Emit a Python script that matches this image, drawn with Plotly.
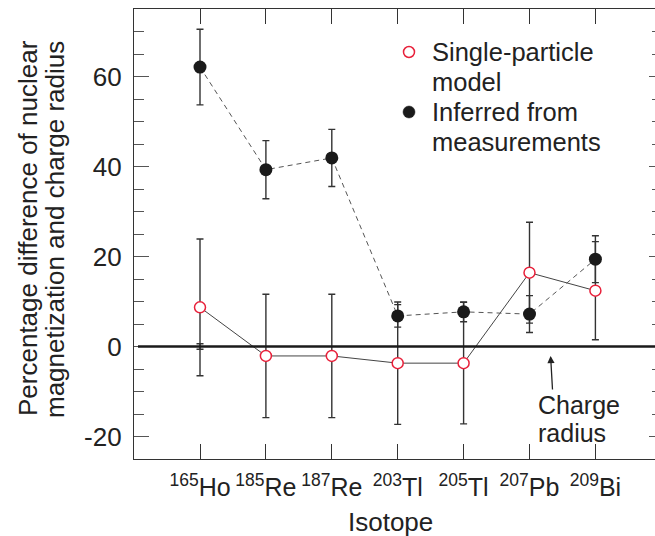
import plotly.graph_objects as go

isotopes = ["<sup>165</sup>Ho", "<sup>185</sup>Re", "<sup>187</sup>Re", "<sup>203</sup>Tl",
            "<sup>205</sup>Tl", "<sup>207</sup>Pb", "<sup>209</sup>Bi"]

single_particle = [8.7, -2.1, -2.1, -3.7, -3.7, 16.4, 12.4]
single_particle_err = [15.2, 13.7, 13.7, 13.6, 13.5, 11.2, 10.9]

inferred = [62.1, 39.3, 41.9, 6.8, 7.7, 7.2, 19.4]
inferred_err = [8.4, 6.45, 6.35, 2.5, 2.2, 4.1, 5.2]

charge_radius_iso = ["<sup>165</sup>Ho"]
charge_radius = [0.0]
charge_radius_err = [0.6]

y_tickvals = [-20, 0, 20, 40, 60]
y_ticktext = ["-20", "0", "20", "40", "60"]

legend_lines = [["Single-particle", "model"], ["Inferred from", "measurements"]]
charge_lines = ["Charge", "radius"]
ytitle_lines = ["Percentage difference of nuclear", "magnetization and charge radius"]

FONT = "Liberation Sans, Arial, sans-serif"
TXT = "#222222"
RED = "#e8203a"

PLOT_TOP, PLOT_BOTTOM = 9, 459
PLOT_LEFT, PLOT_RIGHT = 134, 655
CAT0_PX, CAT_STEP = 200, 65.9


def py2paper(py):
    return (PLOT_BOTTOM - py) / (PLOT_BOTTOM - PLOT_TOP)


def px2paper(px):
    return (px - PLOT_LEFT) / (PLOT_RIGHT - PLOT_LEFT)


fig = go.Figure()

fig.add_trace(go.Scatter(
    x=charge_radius_iso, y=charge_radius, mode="markers",
    marker=dict(size=1, color="rgba(0,0,0,0)"),
    error_y=dict(type="data", array=charge_radius_err, color="#333333", thickness=1.4, width=3.5),
    showlegend=False, hoverinfo="skip"))

fig.add_trace(go.Scatter(
    x=isotopes, y=single_particle, mode="lines+markers",
    name="Single-particle model", showlegend=False,
    line=dict(color="#444444", width=1),
    marker=dict(symbol="circle", size=11, color="white", line=dict(color=RED, width=1.5)),
    error_y=dict(type="data", array=single_particle_err, color="#333333", thickness=1.4, width=3.5)))

fig.add_trace(go.Scatter(
    x=isotopes, y=inferred, mode="lines+markers",
    name="Inferred from measurements", showlegend=False,
    line=dict(color="#555555", width=1, dash="5px,4px"),
    marker=dict(symbol="circle", size=13, color="#1a1a1a"),
    error_y=dict(type="data", array=inferred_err, color="#333333", thickness=1.4, width=3.5)))

# invisible trace on the right-hand axis (carries the right-side tick stubs)
fig.add_trace(go.Scatter(x=isotopes, y=inferred, yaxis="y2", mode="markers",
                         marker=dict(size=1, color="rgba(0,0,0,0)"),
                         showlegend=False, hoverinfo="skip"))

# zero (charge radius) line
fig.add_shape(type="line", xref="paper", yref="y", x0=px2paper(138), x1=1.0, y0=0, y1=0,
              line=dict(color="#1a1a1a", width=2.6))

# manual legend
legend_sym_x = px2paper(409)
legend_text_x = px2paper(430)
line_y = [52, 82, 112, 142]
sym_styles = [dict(fillcolor="white", line=dict(color=RED, width=1.5), r=5.5),
              dict(fillcolor="#1a1a1a", line=dict(color="#1a1a1a", width=0.5), r=6)]
for i, lines in enumerate(legend_lines):
    st = sym_styles[i]
    yc = py2paper(line_y[2 * i])
    fig.add_shape(type="circle", xref="paper", yref="paper",
                  xsizemode="pixel", ysizemode="pixel",
                  xanchor=legend_sym_x, yanchor=yc,
                  x0=-st["r"], x1=st["r"], y0=-st["r"], y1=st["r"],
                  fillcolor=st["fillcolor"], line=st["line"])
    for j, t in enumerate(lines):
        fig.add_annotation(xref="paper", yref="paper", x=legend_text_x,
                           y=py2paper(line_y[2 * i + j]), text=t, showarrow=False,
                           xanchor="left", yanchor="middle",
                           font=dict(family=FONT, size=25.5, color=TXT))

# arrow and label
fig.add_annotation(x=5.32, y=-2.1, xref="x", yref="y", text="", showarrow=True,
                   ax=2, ay=35, arrowhead=2, arrowsize=1.1, arrowwidth=1.3, arrowcolor="#222222")
for j, t in enumerate(charge_lines):
    fig.add_annotation(xref="paper", yref="paper", x=px2paper(536), y=py2paper([405, 433][j]),
                       text=t, showarrow=False, xanchor="left", yanchor="middle",
                       font=dict(family=FONT, size=25, color=TXT))

# y-axis title (two lines)
for j, t in enumerate(ytitle_lines):
    fig.add_annotation(xref="paper", yref="paper", x=0, y=py2paper([228, 230][j]),
                       xshift=[-106, -79][j], textangle=-90,
                       text=t, showarrow=False, xanchor="center", yanchor="middle",
                       font=dict(family=FONT, size=26, color=TXT))
# x-axis title
fig.add_annotation(xref="paper", yref="paper", x=px2paper(390), y=0, yshift=-63,
                   text="Isotope", showarrow=False, xanchor="center", yanchor="middle",
                   font=dict(family=FONT, size=26, color=TXT))

x_range = [(PLOT_LEFT - CAT0_PX) / CAT_STEP, (PLOT_RIGHT - CAT0_PX) / CAT_STEP]

fig.update_layout(
    width=655, height=536,
    margin=dict(l=PLOT_LEFT, r=655 - PLOT_RIGHT, t=PLOT_TOP, b=536 - PLOT_BOTTOM),
    paper_bgcolor="white", plot_bgcolor="white",
    font=dict(family=FONT, size=24, color=TXT),
    showlegend=False,
    xaxis=dict(type="category", range=x_range, showgrid=False, zeroline=False,
               showline=True, linecolor="#333333", linewidth=1.2, mirror="ticks",
               ticks="inside", ticklen=15, tickwidth=1.2, tickcolor="#333333",
               tickfont=dict(family=FONT, size=25, color=TXT), ticklabelstandoff=6),
    yaxis=dict(range=[-25, 75], showgrid=False, zeroline=False,
               showline=True, linecolor="#333333", linewidth=1.2, mirror=False,
               tickvals=y_tickvals, ticktext=y_ticktext,
               ticks="inside", ticklen=15, tickwidth=1.2, tickcolor="#555555",
               minor=dict(dtick=5, ticks="inside", ticklen=10, tickwidth=1.2, tickcolor="#555555"),
               tickfont=dict(family=FONT, size=26, color=TXT), ticklabelstandoff=6),
    yaxis2=dict(range=[-25, 75], overlaying="y", side="right", showgrid=False, zeroline=False,
                showline=False, showticklabels=False,
                tickvals=y_tickvals, ticks="inside", ticklen=6, tickwidth=1.4, tickcolor="#555555",
                minor=dict(dtick=5, ticks="inside", ticklen=3, tickwidth=1.4, tickcolor="#555555")),
)

fig.write_html("out.html",
               post_script="document.documentElement.style.overflow='hidden';"
                           "document.body.style.overflow='hidden';"
                           "document.body.style.margin='0';")
